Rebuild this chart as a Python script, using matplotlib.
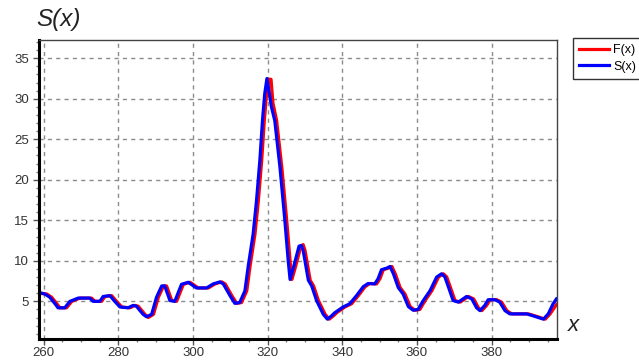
import matplotlib.pyplot as plt
from matplotlib.ticker import MultipleLocator

# S(x) samples
s_x = [258.7, 260.3, 261.6, 263.0, 263.8, 265.6, 267.0, 269.2, 272.3, 273.2,
       275.0, 275.9, 277.7, 279.0, 280.4, 282.6, 283.9, 284.8, 286.6, 287.5,
       288.9, 290.2, 291.6, 292.4, 293.8, 295.1, 296.9, 298.7, 300.9, 303.6,
       305.4, 307.2, 308.1, 309.9, 311.2, 312.5, 313.9, 314.8, 316.1, 317.0,
       317.9, 318.6, 319.2, 319.8, 320.4, 321.0, 321.9, 323.3, 324.6, 325.5,
       326.0, 326.8, 328.4, 329.0, 329.5, 330.9, 331.8, 333.1, 334.9, 336.0,
       337.1, 338.0, 340.2, 342.0, 343.8, 345.6, 346.9, 348.7, 349.6, 350.5,
       351.9, 352.8, 353.7, 355.0, 356.3, 357.7, 359.0, 360.3, 361.7, 363.5,
       365.3, 366.6, 367.5, 368.8, 369.7, 371.1, 373.3, 374.7, 376.0, 376.9,
       378.2, 379.1, 380.9, 382.2, 383.6, 384.9, 389.4, 391.2, 393.9, 395.2,
       396.5, 397.4]
s_y = [6.1, 5.9, 5.5, 4.7, 4.2, 4.2, 5.0, 5.4, 5.4, 5.0,
       5.0, 5.6, 5.7, 5.0, 4.3, 4.2, 4.5, 4.4, 3.4, 3.1,
       3.4, 5.5, 6.9, 6.9, 5.1, 5.0, 7.1, 7.35, 6.65, 6.65,
       7.15, 7.4, 7.15, 5.7, 4.75, 4.85, 6.3, 9.4, 13.3, 17.4,
       22.4, 27.3, 30.6, 32.5, 30.8, 29.0, 27.3, 21.5, 15.0, 10.0,
       7.7, 9.0, 11.8, 11.9, 11.3, 7.6, 6.9, 5.1, 3.4, 2.8,
       3.2, 3.6, 4.3, 4.7, 5.7, 6.8, 7.2, 7.15, 7.8, 8.9,
       9.1, 9.3, 8.4, 6.7, 5.9, 4.35, 3.9, 4.0, 5.1, 6.3,
       8.0, 8.4, 8.0, 6.3, 5.1, 4.9, 5.6, 5.3, 4.2, 3.85,
       4.5, 5.2, 5.2, 4.9, 3.85, 3.45, 3.45, 3.2, 2.8, 3.45,
       4.7, 5.3]

# F(x) samples
f_x = [258.7, 260.8, 262.1, 263.5, 264.3, 266.1, 267.5, 269.7, 272.8, 273.7,
       275.5, 276.4, 278.2, 279.5, 280.9, 283.1, 284.4, 285.3, 287.1, 288.0,
       289.4, 290.7, 292.1, 292.9, 294.3, 295.6, 297.4, 299.2, 301.4, 304.1,
       305.9, 307.7, 308.6, 310.4, 311.7, 313.0, 314.4, 315.3, 316.6, 317.5,
       318.4, 319.1, 319.7, 320.3, 320.9, 321.4, 322.4, 323.8, 325.1, 326.0,
       326.5, 327.3, 328.9, 329.5, 330.0, 331.4, 332.3, 333.6, 335.4, 336.5,
       337.6, 338.5, 340.7, 342.5, 344.3, 346.1, 347.4, 349.2, 350.1, 351.0,
       352.4, 353.3, 354.2, 355.5, 356.8, 358.2, 359.5, 360.8, 362.2, 364.0,
       365.8, 367.1, 368.0, 369.3, 370.2, 371.6, 373.8, 375.2, 376.5, 377.4,
       378.7, 379.6, 381.4, 382.7, 384.1, 385.4, 389.9, 391.7, 394.4, 395.7,
       397.4]
f_y = [6.0, 5.9, 5.5, 4.7, 4.2, 4.2, 5.0, 5.4, 5.4, 5.0,
       5.0, 5.6, 5.7, 5.0, 4.3, 4.2, 4.5, 4.4, 3.4, 3.0,
       3.4, 5.5, 6.9, 6.9, 5.1, 5.0, 7.1, 7.35, 6.65, 6.65,
       7.15, 7.4, 7.15, 5.7, 4.75, 4.85, 6.3, 9.4, 13.3, 17.4,
       22.4, 27.3, 30.6, 32.4, 32.4, 29.5, 27.3, 21.5, 15.0, 10.0,
       7.7, 9.0, 11.8, 12.0, 11.3, 7.6, 6.9, 5.1, 3.4, 2.8,
       3.2, 3.6, 4.3, 4.7, 5.7, 6.8, 7.2, 7.15, 7.8, 8.9,
       9.1, 9.3, 8.4, 6.7, 5.9, 4.35, 3.9, 4.0, 5.1, 6.3,
       8.0, 8.4, 8.0, 6.3, 5.1, 4.9, 5.6, 5.3, 4.2, 3.85,
       4.5, 5.2, 5.2, 4.9, 3.85, 3.45, 3.45, 3.2, 2.8, 3.45,
       4.6]

plt.rcParams['font.family'] = ['Liberation Sans', 'DejaVu Sans']

fig = plt.figure(figsize=(6.39, 3.62), dpi=100)
ax = fig.add_axes([0.061, 0.0635, 0.811, 0.826])

ax.plot(f_x, f_y, color='#ff0000', lw=2.3, label='F(x)', solid_joinstyle='round')
ax.plot(s_x, s_y, color='#0000ff', lw=2.3, label='S(x)', solid_joinstyle='round')

ax.set_xlim(258.7, 397.6)
ax.set_ylim(0.35, 37.25)
ax.xaxis.set_major_locator(MultipleLocator(20))
ax.xaxis.set_minor_locator(MultipleLocator(5))
ax.yaxis.set_major_locator(MultipleLocator(5))
ax.yaxis.set_minor_locator(MultipleLocator(1))
ax.set_yticks([5, 10, 15, 20, 25, 30, 35])

ax.grid(True, which='major', color='#8c8c8c', linestyle=(0, (3, 3)), linewidth=1)
ax.tick_params(which='major', direction='out', length=4, width=1,
               labelsize=9.5, labelcolor='#333333', color='#555555', pad=3)
ax.tick_params(axis='x', which='major', pad=1.5)
ax.tick_params(which='minor', direction='out', length=2.5, width=1, color='#777777')

for side in ('left', 'bottom'):
    ax.spines[side].set_linewidth(2.2)
    ax.spines[side].set_color('black')
for side in ('top', 'right'):
    ax.spines[side].set_linewidth(1)
    ax.spines[side].set_color('#444444')

fig.text(0.057, 0.945, 'S(x)', fontsize=17.5, style='italic', color='#222222',
         ha='left', va='center')
fig.text(0.897, 0.10, 'x', fontsize=16, style='italic', color='#222222',
         ha='center', va='center')

leg = fig.legend(loc='upper left', bbox_to_anchor=(0.897, 0.895), fontsize=9,
                 frameon=True, fancybox=False, handlelength=2.4,
                 handletextpad=0.3, borderpad=0.5, labelspacing=0.35,
                 borderaxespad=0)
leg.get_frame().set_edgecolor('black')
leg.get_frame().set_linewidth(1)

fig.savefig('out.png', dpi=100)
